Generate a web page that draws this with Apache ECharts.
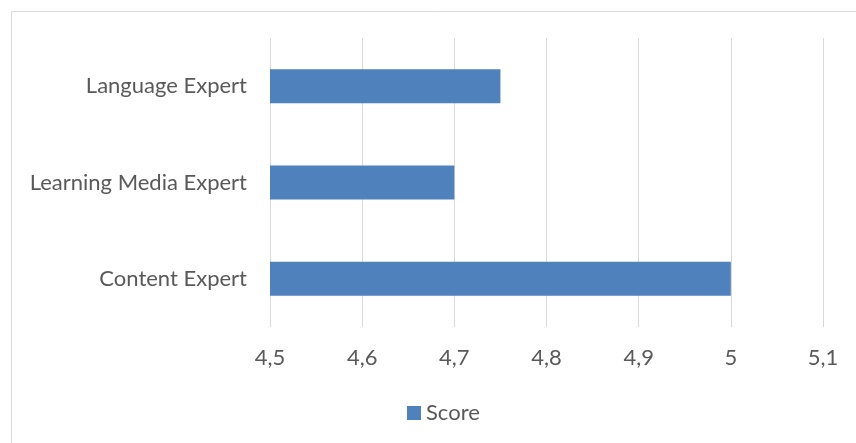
<!DOCTYPE html>
<html>
<head>
<meta charset="utf-8">
<script src="https://cdn.jsdelivr.net/npm/echarts@6/dist/echarts.min.js"></script>
<style>html,body{margin:0;padding:0;background:#fff}#c{width:856px;height:443px}</style>
</head>
<body>
<div id="c"></div>
<script>
var categories = ["Content Expert", "Learning Media Expert", "Language Expert"];
var scores = [5.0, 4.7, 4.75];
var seriesName = "Score";
var axisMin = 4.5, axisMax = 5.1, axisStep = 0.1;

var chart = echarts.init(document.getElementById('c'), null, {renderer: 'canvas'});
var font = 'Lato';
chart.setOption({
  animation: false,
  textStyle: {fontFamily: font},
  graphic: [{
    type: 'rect', left: 9, top: 9, silent: true,
    shape: {x: 0, y: 0, width: 900, height: 500},
    style: {fill: 'none', stroke: '#D9D9D9', lineWidth: 1}
  }],
  grid: {left: 270, right: 33, top: 38, bottom: 116, containLabel: false},
  xAxis: {
    type: 'value', min: axisMin, max: axisMax, interval: axisStep,
    axisLine: {show: false}, axisTick: {show: false},
    splitLine: {show: true, lineStyle: {color: '#D9D9D9', width: 1}},
    axisLabel: {
      color: '#595959', fontSize: 22, fontFamily: font, margin: 20,
      formatter: function (v) { return String(Math.round(v * 10) / 10).replace('.', ','); }
    }
  },
  yAxis: {
    type: 'category', data: categories,
    axisLine: {show: false}, axisTick: {show: false},
    axisLabel: {color: '#595959', fontSize: 22, fontFamily: font, margin: 23}
  },
  legend: {
    data: [seriesName], left: 402, top: 397, itemWidth: 14, itemHeight: 14, itemGap: 6,
    icon: 'rect', textStyle: {color: '#595959', fontSize: 22, fontFamily: font}
  },
  series: [{
    name: seriesName, type: 'bar', data: scores, barWidth: 34,
    itemStyle: {color: '#4F81BD'}
  }]
});
</script>
</body>
</html>
